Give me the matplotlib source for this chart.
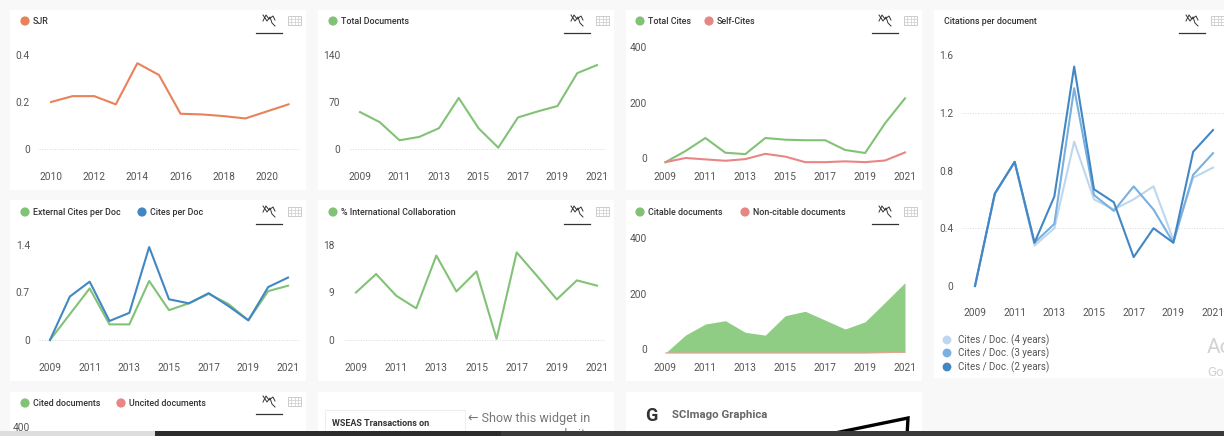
import matplotlib
matplotlib.use('Agg')
import matplotlib.pyplot as plt
from matplotlib.patches import Rectangle, Circle

plt.rcParams['font.family'] = ['Roboto', 'DejaVu Sans']

W = 1224
H = 436

years = list(range(2009, 2022))
sjr_years = list(range(2010, 2022))

sjr = [0.2, 0.225, 0.225, 0.19, 0.365, 0.315, 0.15, 0.147, 0.14, 0.13, 0.16, 0.19]
total_docs = [55, 40, 13, 18, 31, 76, 31, 2, 47, 56, 64, 113, 125]
total_cites = [-15, 25, 72, 19, 14, 72, 66, 64, 64, 29, 18, 125, 215]
self_cites = [-15, 0, -5, -10, -4, 15, 5, -15, -15, -12, -15, -9, 20]
cites_2y = [0, 0.64, 0.86, 0.3, 0.62, 1.52, 0.67, 0.58, 0.2, 0.4, 0.3, 0.93, 1.08]
cites_3y = [0, 0.64, 0.86, 0.3, 0.43, 1.37, 0.63, 0.52, 0.69, 0.53, 0.3, 0.77, 0.92]
cites_4y = [0, 0.64, 0.86, 0.28, 0.4, 1.0, 0.6, 0.53, 0.6, 0.69, 0.32, 0.75, 0.82]
ext_per_doc = [0, 0.38, 0.76, 0.23, 0.23, 0.87, 0.44, 0.54, 0.68, 0.53, 0.29, 0.72, 0.8]
cites_per_doc = [0, 0.64, 0.86, 0.28, 0.4, 1.37, 0.6, 0.54, 0.69, 0.5, 0.29, 0.78, 0.92]
intl_collab = [9, 12.5, 8.4, 6, 16, 9.2, 13, 0.2, 16.6, 12.2, 7.7, 11.3, 10.3]
citable = [-14, 50, 90, 102, 60, 50, 120, 136, 104, 72, 98, 168, 239]
non_citable = [-14, -14, -14, -14, -14, -14, -14, -14, -14, -14, -14, -13, -12]

ORANGE = '#e8825a'
GREEN = '#82c276'
RED = '#e88585'
BLUE = '#4287c4'
BLUE2 = '#7ab0e0'
BLUE3 = '#bcd7ee'
TXT = '#555555'

fig = plt.figure(figsize=(W / 100, H / 100), dpi=100, facecolor='#f8f8f8')

# pixel overlay for cards, legends and icons
bg = fig.add_axes([0, 0, 1, 1], zorder=0)
bg.set_xlim(0, W)
bg.set_ylim(H, 0)
bg.axis('off')

top = fig.add_axes([0, 0, 1, 1], zorder=5)
top.set_xlim(0, W)
top.set_ylim(H, 0)
top.axis('off')
top.patch.set_alpha(0)


def card(x0, y0, x1, y1):
    bg.add_patch(Rectangle((x0, y0), x1 - x0, y1 - y0, fc='white', ec='none'))


def legend(x, y, items):
    for label, color, width in items:
        top.add_patch(Circle((x + 5, y), 4.6, fc=color, ec='none'))
        top.text(x + 13, y, label, fontsize=6.4, color='#333333', va='center', ha='left', weight='medium')
        x += width


def icons(x, y):
    # wiggle + table button in the card corner
    top.plot([x - 6, x - 2, x + 1, x + 3, x + 6], [y - 5, y + 1, y - 3, y + 3, y + 6], color='#333333', lw=0.7)
    top.plot([x - 6, x - 3, x, x + 4, x + 6], [y + 1, y - 5, y - 1, y - 4, y], color='#333333', lw=0.7)
    top.plot([x - 13, x + 13], [y + 13, y + 13], color='#333333', lw=0.9)
    tx = x + 19
    top.add_patch(Rectangle((tx, y - 4), 13, 9, fc='none', ec='#cccccc', lw=0.7))
    for i in (1, 2, 3):
        top.plot([tx + i * 3.25] * 2, [y - 4, y + 5], color='#cccccc', lw=0.5)
    for j in (1, 2):
        top.plot([tx, tx + 13], [y - 4 + j * 3] * 2, color='#cccccc', lw=0.5)


def panel(box, xpx, ypx, yticks, ylabels, xticks, grid, label_x, label_y):
    # box is left, right, top, bottom in pixels; xpx and ypx pin the scales
    left, right, ytop, ybot = box
    ax = fig.add_axes([left / W, 1 - ybot / H, (right - left) / W, (ybot - ytop) / H], zorder=2)
    ax.patch.set_alpha(0)
    first, last = xticks[0], xticks[-1]
    x_scale = (last - first) / (xpx[1] - xpx[0])
    ax.set_xlim(first + (left - xpx[0]) * x_scale, first + (right - xpx[0]) * x_scale)
    y_scale = (yticks[-1] - yticks[0]) / (ypx[0] - ypx[1])
    ax.set_ylim(yticks[0] - (ybot - ypx[0]) * y_scale, yticks[0] + (ypx[0] - ytop) * y_scale)
    for s in ax.spines.values():
        s.set_visible(False)
    ax.set_xticks(xticks)
    ax.set_yticks(yticks)
    ax.set_yticklabels(ylabels)
    ax.tick_params(length=0, labelsize=7.3, labelcolor=TXT)
    ax.tick_params(axis='y', pad=(left - label_x) * 0.72)
    ax.tick_params(axis='x', pad=(label_y - ybot - 4) * 0.72)
    for g in grid:
        ax.axhline(g, color='#d9d9d9', lw=0.7, ls=':', zorder=1)
    return ax


odd_years = list(range(2009, 2022, 2))
even_years = [2010, 2012, 2014, 2016, 2018, 2020]

# cards
card(10, 10, 306, 190)
card(318, 10, 614, 190)
card(626, 10, 922, 190)
card(934, 10, 1224, 378)
card(10, 200, 306, 381)
card(318, 200, 614, 381)
card(626, 200, 922, 381)
card(10, 392, 306, 436)
card(318, 392, 614, 436)
card(626, 392, 922, 436)

# SJR
ax = panel((39, 300, 45, 165), (51, 288.5), (149, 55), [0, 0.2, 0.4], ['0', '0.2', '0.4'],
           even_years + [2021], [0], 30, 176)
ax.set_xticks(even_years)
ax.plot(sjr_years, sjr, color=ORANGE, lw=1.5)
legend(20, 21, [('SJR', ORANGE, 40)])
icons(269, 20)

# total documents
ax = panel((350, 606, 45, 165), (360, 597), (149, 55), [0, 70, 140], ['0', '70', '140'],
           odd_years, [0], 340, 176)
ax.plot(years, total_docs, color=GREEN, lw=1.5)
legend(328, 21, [('Total Documents', GREEN, 100)])
icons(577, 20)

# total cites
ax = panel((655, 915, 40, 168), (665.5, 905), (158, 47), [0, 200, 400], ['0', '200', '400'],
           odd_years, [], 647, 176)
ax.plot(years, total_cites, color=GREEN, lw=1.5)
ax.plot(years, self_cites, color=RED, lw=1.5)
legend(635, 21, [('Total Cites', GREEN, 69), ('Self-Cites', RED, 60)])
icons(885, 20)

# citations per document
ax = panel((962, 1224, 45, 302), (975, 1213), (286, 55), [0, 0.4, 0.8, 1.2, 1.6],
           ['0', '0.4', '0.8', '1.2', '1.6'], odd_years, [0.4, 1.2], 953, 312)
ax.plot(years, cites_4y, color=BLUE3, lw=1.5)
ax.plot(years, cites_3y, color=BLUE2, lw=1.5)
ax.plot(years, cites_2y, color=BLUE, lw=1.5)
top.text(944, 21, 'Citations per document', fontsize=6.4, color='#333333', va='center', weight='medium')
icons(1192, 20)
for ly, lab, col in [(340, 'Cites / Doc. (4 years)', BLUE3), (353, 'Cites / Doc. (3 years)', BLUE2),
                     (367, 'Cites / Doc. (2 years)', BLUE)]:
    top.add_patch(Circle((947, ly), 4.4, fc=col, ec='none'))
    top.text(958, ly, lab, fontsize=7, color=TXT, va='center')

# external cites per doc
ax = panel((39, 300, 235, 358), (50, 288), (340, 245), [0, 0.7, 1.4], ['0', '0.7', '1.4'],
           odd_years, [0], 30, 367)
ax.plot(years, ext_per_doc, color=GREEN, lw=1.5)
ax.plot(years, cites_per_doc, color=BLUE, lw=1.5)
legend(20, 212, [('External Cites per Doc', GREEN, 117), ('Cites per Doc', BLUE, 80)])
icons(269, 211)

# international collaboration
ax = panel((345, 606, 235, 358), (356, 597), (340, 245), [0, 9, 18], ['0', '9', '18'],
           odd_years, [0], 334, 367)
ax.plot(years, intl_collab, color=GREEN, lw=1.5)
legend(328, 212, [('% International Collaboration', GREEN, 150)])
icons(577, 211)

# citable documents
ax = panel((655, 915, 225, 358), (665.5, 905), (349, 238), [0, 200, 400], ['0', '200', '400'],
           odd_years, [], 647, 367)
ax.fill_between(years, citable, non_citable, color='#8fcd84', lw=0)
ax.plot(years, non_citable, color='#eaa58f', lw=0.7)
legend(635, 212, [('Citable documents', GREEN, 105), ('Non-citable documents', RED, 120)])
icons(885, 211)

# bottom row, cut off by the window edge
legend(20, 403, [('Cited documents', GREEN, 96), ('Uncited documents', RED, 100)])
icons(269, 401)
top.text(30, 428, '400', fontsize=7.3, color=TXT, va='center', ha='right')

bg.add_patch(Rectangle((325, 410), 140, 26, fc='white', ec='#eeeeee', lw=0.8))
top.text(332, 423, 'WSEAS Transactions on', fontsize=6.5, color='#333333', weight='bold', va='center')
top.text(468, 418, '\u2190 Show this widget in', fontsize=9, color='#777777', va='center')
top.text(592, 434, 'your website', fontsize=9, color='#777777', va='center', ha='right')

top.text(651, 416, 'G', fontsize=13, color='#333333', weight='bold', va='center', ha='center')
top.text(672, 415, 'SCImago Graphica', fontsize=8.2, color='#666666', weight='bold', va='center')
top.plot([835, 908, 907], [433, 418, 436], color='black', lw=2.4, solid_joinstyle='miter')

# "Activate Windows" watermark at the right edge
top.text(1207, 347, 'Ac', fontsize=15, color='#d2d2d2', va='center', clip_on=True)
top.text(1207, 372, 'Go', fontsize=9.5, color='#d2d2d2', va='center', clip_on=True)

# window scroll bar along the bottom
top.add_patch(Rectangle((0, 431), 155, 5, fc='#dddddd', ec='none', zorder=6))
top.add_patch(Rectangle((155, 431), 346, 5, fc='#2c2c2c', ec='none', zorder=6))
top.add_patch(Rectangle((501, 431), 723, 5, fc='#3a3a3a', ec='none', zorder=6))

fig.savefig('out.png', dpi=100, facecolor=fig.get_facecolor())
